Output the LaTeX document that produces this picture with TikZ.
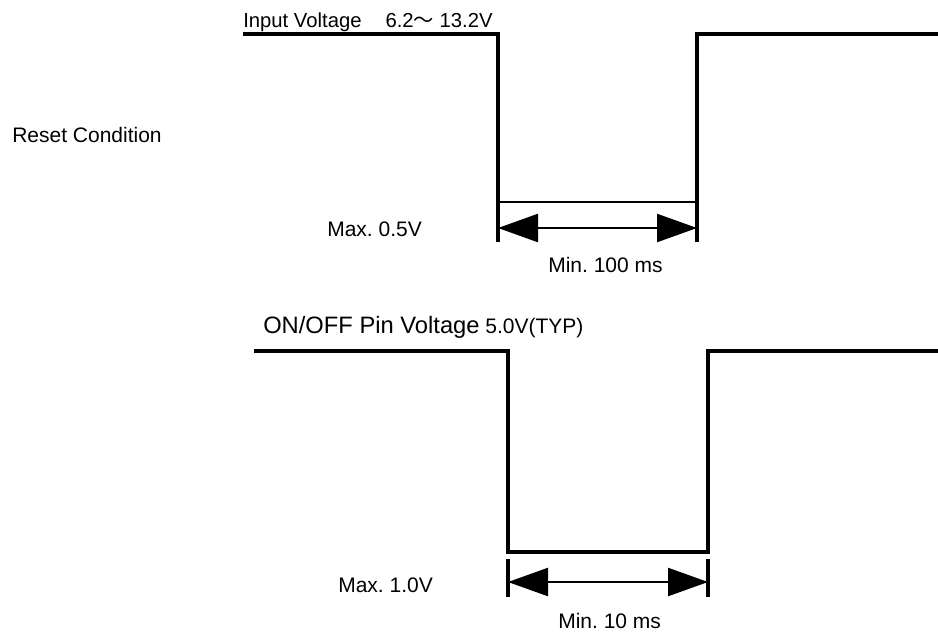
\documentclass[tikz,border=0pt]{standalone}
\usepackage{fontspec}
\setmainfont{Liberation Sans}
\newfontfamily\cjkfont{Noto Sans CJK JP}
\usetikzlibrary{arrows.meta}
\frenchspacing

\begin{document}
\begin{tikzpicture}[x=0.75pt,y=-0.75pt,
  wave/.style={line width=2.3pt},
  lowline/.style={line width=2.2pt},
  dimarrow/.style={line width=1.8pt,{Triangle[length=30pt,width=21pt]}-{Triangle[length=30pt,width=21pt]}},
  lbl/.style={anchor=base west,inner sep=0pt,font=\fontsize{15.75}{18}\selectfont}]
\useasboundingbox (0,0) rectangle (938,633);
% reset condition (input voltage)
\coordinate (inA) at (498,228);
\coordinate (inB) at (697,228);
\draw[wave] (243,34) -- (498,34) -- (498,242);
\draw[wave] (938,34) -- (697,34) -- (697,242);
\draw[lowline] (498,202) -- (697,202);
\draw[dimarrow] (inA) -- (inB);
\node[lbl,font=\fontsize{15.2}{17}\selectfont] (inlabel) at (243,27) {Input Voltage\hspace{18pt}6.2{\cjkfont ～} 13.2V};
\node[lbl] (reset) at (12,142) {Reset Condition};
\node[lbl] (inmax) at (327,236) {Max. 0.5V};
\node[lbl] (inmin) at (548,272) {Min. 100 ms};
% on/off pin voltage
\coordinate (onA) at (508,582);
\coordinate (onB) at (708,582);
\draw[wave] (254,351) -- (508,351) -- (508,552) -- (708,552) -- (708,351) -- (938,351);
\draw[wave] (508,559) -- (508,597);
\draw[wave] (708,559) -- (708,597);
\draw[dimarrow] (onA) -- (onB);
\node[lbl] (onlabel) at (263,333) {{\fontsize{17.8}{20}\selectfont ON/OFF Pin Voltage} 5.0V(TYP)};
\node[lbl] (onmax) at (338,592) {Max. 1.0V};
\node[lbl] (onmin) at (558,628) {Min. 10 ms};
\end{tikzpicture}
\end{document}
